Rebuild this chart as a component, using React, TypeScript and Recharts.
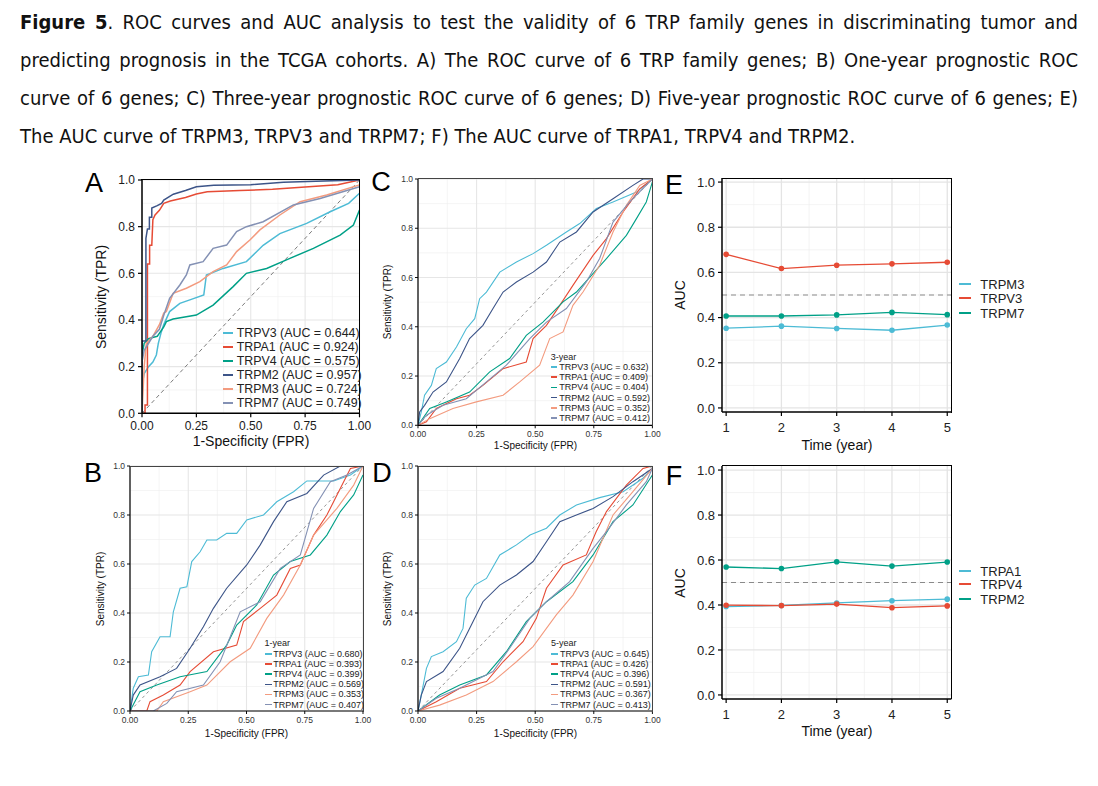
import React from 'react';
import { LineChart, Line, XAxis, YAxis, CartesianGrid, ReferenceLine } from 'recharts';

type Pt = [number, number];

const FONT = '"Liberation Sans", Arial, Helvetica, sans-serif';
const CAPTION_FONT = '"Liberation Sans Narrow", "DejaVu Sans Condensed", "Liberation Sans", Arial, sans-serif';

// ---------- caption ----------
const CAPTION_LINES = [
  '. ROC curves and AUC analysis to test the validity of 6 TRP family genes in discriminating tumor and',
  'predicting prognosis in the TCGA cohorts. A) The ROC curve of 6 TRP family genes; B) One-year prognostic ROC',
  'curve of 6 genes; C) Three-year prognostic ROC curve of 6 genes; D) Five-year prognostic ROC curve of 6 genes; E)',
  'The AUC curve of TRPM3, TRPV3 and TRPM7; F) The AUC curve of TRPA1, TRPV4 and TRPM2.',
];

// ---------- ROC panels ----------
const ROC_GENES = ['TRPV3', 'TRPA1', 'TRPV4', 'TRPM2', 'TRPM3', 'TRPM7'];
const ROC_COLORS = ['#4DBBD5', '#E64B35', '#00A087', '#3C5488', '#F39B7F', '#8491B4'];
const FPR_TICKS = [0, 0.25, 0.5, 0.75, 1];
const FPR_MINOR = [0.125, 0.375, 0.625, 0.875];
const TPR_TICKS = [0, 0.2, 0.4, 0.6, 0.8, 1];
const TPR_MINOR = [0.1, 0.3, 0.5, 0.7, 0.9];
const DIAGONAL: Pt[] = [[0, 0], [1, 1]];

const AUC_A = [0.644, 0.924, 0.575, 0.957, 0.724, 0.749];
const AUC_B = [0.680, 0.393, 0.399, 0.569, 0.353, 0.407];
const AUC_C = [0.632, 0.409, 0.404, 0.592, 0.352, 0.412];
const AUC_D = [0.645, 0.426, 0.396, 0.591, 0.367, 0.413];

// Panel A (tumor vs normal) [FPR, TPR]
const A_TRPV3: Pt[] = [[0, 0], [0, 0.12], [0.01, 0.17], [0.03, 0.2], [0.05, 0.22], [0.066, 0.25], [0.075, 0.3], [0.089, 0.35], [0.1, 0.38], [0.127, 0.436], [0.174, 0.471], [0.22, 0.486], [0.284, 0.507], [0.296, 0.593], [0.373, 0.621], [0.48, 0.65], [0.557, 0.72], [0.634, 0.77], [0.757, 0.814], [0.865, 0.864], [0.95, 0.9], [1, 0.943]];
const A_TRPA1: Pt[] = [[0, 0], [0.014, 0], [0.014, 0.036], [0.025, 0.036], [0.025, 0.64], [0.035, 0.64], [0.035, 0.72], [0.045, 0.72], [0.05, 0.83], [0.06, 0.85], [0.08, 0.87], [0.1, 0.9], [0.13, 0.91], [0.2, 0.925], [0.25, 0.94], [0.3, 0.95], [0.45, 0.955], [0.6, 0.96], [0.75, 0.97], [0.9, 0.98], [1, 1]];
const A_TRPV4: Pt[] = [[0, 0], [0, 0.25], [0.01, 0.3], [0.03, 0.32], [0.07, 0.33], [0.1, 0.37], [0.112, 0.393], [0.143, 0.404], [0.25, 0.421], [0.327, 0.464], [0.419, 0.543], [0.48, 0.6], [0.573, 0.621], [0.68, 0.664], [0.788, 0.707], [0.911, 0.764], [0.972, 0.807], [1, 0.871]];
const A_TRPM2: Pt[] = [[0, 0], [0, 0.31], [0.018, 0.31], [0.018, 0.75], [0.025, 0.79], [0.034, 0.79], [0.034, 0.84], [0.045, 0.84], [0.045, 0.88], [0.07, 0.89], [0.09, 0.9], [0.1, 0.914], [0.144, 0.939], [0.2, 0.955], [0.25, 0.971], [0.33, 0.978], [0.5, 0.98], [0.65, 0.99], [0.8, 0.995], [1, 1]];
const A_TRPM3: Pt[] = [[0, 0], [0.01, 0.2], [0.02, 0.3], [0.05, 0.33], [0.08, 0.38], [0.1, 0.43], [0.112, 0.436], [0.143, 0.514], [0.204, 0.536], [0.266, 0.564], [0.327, 0.607], [0.389, 0.636], [0.435, 0.693], [0.496, 0.743], [0.542, 0.786], [0.634, 0.85], [0.727, 0.907], [0.849, 0.936], [1, 0.979]];
const A_TRPM7: Pt[] = [[0, 0], [0, 0.22], [0.01, 0.27], [0.05, 0.33], [0.08, 0.36], [0.1, 0.42], [0.127, 0.493], [0.174, 0.55], [0.204, 0.593], [0.22, 0.636], [0.281, 0.65], [0.327, 0.707], [0.389, 0.721], [0.435, 0.779], [0.48, 0.8], [0.557, 0.821], [0.696, 0.893], [0.819, 0.921], [1, 0.971]];

// Panel B (1-year)
const B_TRPV3: Pt[] = [[0, 0], [0.014, 0.093], [0.036, 0.14], [0.079, 0.147], [0.093, 0.242], [0.129, 0.303], [0.172, 0.303], [0.186, 0.405], [0.215, 0.501], [0.244, 0.507], [0.265, 0.61], [0.301, 0.65], [0.33, 0.698], [0.372, 0.698], [0.415, 0.725], [0.458, 0.725], [0.501, 0.78], [0.573, 0.8], [0.63, 0.854], [0.702, 0.895], [0.759, 0.939], [0.874, 0.939], [0.946, 0.963], [1, 1]];
const B_TRPA1: Pt[] = [[0, 0], [0.072, 0], [0.086, 0.038], [0.143, 0.065], [0.215, 0.106], [0.258, 0.161], [0.358, 0.242], [0.458, 0.269], [0.487, 0.365], [0.559, 0.419], [0.63, 0.473], [0.688, 0.582], [0.731, 0.596], [0.788, 0.718], [0.845, 0.8], [0.903, 0.909], [0.946, 0.99], [1, 1]];
const B_TRPV4: Pt[] = [[0, 0], [0.043, 0.079], [0.115, 0.106], [0.215, 0.14], [0.33, 0.161], [0.415, 0.269], [0.458, 0.351], [0.544, 0.433], [0.616, 0.555], [0.688, 0.61], [0.774, 0.637], [0.845, 0.718], [0.903, 0.814], [0.96, 0.882], [1, 0.963]];
const B_TRPM2: Pt[] = [[0, 0], [0.014, 0.065], [0.043, 0.106], [0.129, 0.14], [0.2, 0.174], [0.258, 0.256], [0.315, 0.344], [0.358, 0.419], [0.415, 0.501], [0.501, 0.596], [0.559, 0.678], [0.616, 0.773], [0.673, 0.854], [0.759, 0.888], [0.831, 0.963], [0.903, 1], [1, 1]];
const B_TRPM3: Pt[] = [[0, 0], [0.115, 0], [0.143, 0.038], [0.258, 0.079], [0.33, 0.106], [0.43, 0.201], [0.516, 0.256], [0.587, 0.378], [0.659, 0.473], [0.731, 0.596], [0.788, 0.718], [0.888, 0.827], [0.96, 0.922], [1, 1]];
const B_TRPM7: Pt[] = [[0, 0], [0.1, 0], [0.158, 0.031], [0.2, 0.079], [0.315, 0.106], [0.387, 0.201], [0.473, 0.405], [0.559, 0.446], [0.645, 0.582], [0.731, 0.637], [0.788, 0.827], [0.86, 0.936], [0.931, 0.963], [1, 1]];

// Panel C (3-year)
const C_TRPV3: Pt[] = [[0, 0], [0.014, 0.054], [0.028, 0.122], [0.057, 0.162], [0.078, 0.23], [0.121, 0.257], [0.164, 0.318], [0.206, 0.392], [0.242, 0.433], [0.263, 0.514], [0.292, 0.541], [0.349, 0.622], [0.42, 0.663], [0.491, 0.697], [0.548, 0.731], [0.633, 0.785], [0.69, 0.819], [0.761, 0.88], [0.832, 0.907], [0.932, 0.947], [1, 1]];
const C_TRPA1: Pt[] = [[0, 0], [0.036, 0.014], [0.078, 0.068], [0.164, 0.108], [0.22, 0.122], [0.277, 0.162], [0.363, 0.23], [0.462, 0.257], [0.491, 0.352], [0.548, 0.406], [0.605, 0.487], [0.661, 0.568], [0.747, 0.69], [0.804, 0.758], [0.875, 0.866], [0.946, 0.96], [1, 1]];
const C_TRPV4: Pt[] = [[0, 0], [0.05, 0.068], [0.121, 0.095], [0.22, 0.135], [0.306, 0.217], [0.391, 0.271], [0.462, 0.365], [0.533, 0.419], [0.619, 0.501], [0.676, 0.541], [0.804, 0.677], [0.889, 0.771], [0.932, 0.839], [0.974, 0.907], [1, 0.988]];
const C_TRPM2: Pt[] = [[0, 0], [0.007, 0.054], [0.028, 0.081], [0.064, 0.135], [0.121, 0.176], [0.178, 0.271], [0.22, 0.352], [0.277, 0.406], [0.32, 0.474], [0.363, 0.541], [0.42, 0.582], [0.491, 0.622], [0.548, 0.663], [0.605, 0.744], [0.676, 0.785], [0.747, 0.866], [0.832, 0.92], [0.917, 0.974], [0.96, 1], [1, 1]];
const C_TRPM3: Pt[] = [[0, 0], [0.05, 0.027], [0.149, 0.068], [0.249, 0.095], [0.363, 0.122], [0.434, 0.176], [0.519, 0.244], [0.562, 0.352], [0.619, 0.379], [0.661, 0.487], [0.704, 0.541], [0.775, 0.65], [0.832, 0.785], [0.889, 0.893], [0.946, 0.974], [1, 1]];
const C_TRPM7: Pt[] = [[0, 0], [0.036, 0.041], [0.107, 0.081], [0.206, 0.108], [0.292, 0.176], [0.377, 0.244], [0.477, 0.352], [0.548, 0.419], [0.633, 0.474], [0.718, 0.582], [0.775, 0.677], [0.832, 0.825], [0.903, 0.907], [1, 1]];

// Panel D (5-year)
const D_TRPV3: Pt[] = [[0, 0], [0.014, 0.065], [0.036, 0.174], [0.057, 0.222], [0.107, 0.242], [0.164, 0.283], [0.192, 0.337], [0.206, 0.46], [0.242, 0.514], [0.292, 0.541], [0.349, 0.637], [0.42, 0.678], [0.478, 0.718], [0.548, 0.746], [0.605, 0.8], [0.676, 0.841], [0.775, 0.871], [0.875, 0.895], [0.96, 0.95], [1, 0.99]];
const D_TRPA1: Pt[] = [[0, 0], [0.078, 0.038], [0.178, 0.093], [0.292, 0.12], [0.363, 0.201], [0.448, 0.283], [0.505, 0.378], [0.548, 0.501], [0.619, 0.596], [0.718, 0.637], [0.76, 0.732], [0.804, 0.814], [0.889, 0.922], [0.96, 0.99], [1, 1]];
const D_TRPV4: Pt[] = [[0, 0], [0.092, 0.065], [0.178, 0.106], [0.292, 0.147], [0.377, 0.242], [0.462, 0.365], [0.548, 0.446], [0.661, 0.528], [0.747, 0.637], [0.832, 0.773], [0.917, 0.841], [1, 0.963]];
const D_TRPM2: Pt[] = [[0, 0], [0.014, 0.065], [0.036, 0.12], [0.107, 0.161], [0.178, 0.256], [0.235, 0.365], [0.277, 0.446], [0.349, 0.514], [0.42, 0.555], [0.491, 0.61], [0.548, 0.691], [0.605, 0.773], [0.676, 0.8], [0.747, 0.827], [0.832, 0.875], [0.917, 0.936], [1, 0.99]];
const D_TRPM3: Pt[] = [[0, 0], [0.092, 0.024], [0.206, 0.065], [0.32, 0.12], [0.42, 0.201], [0.491, 0.263], [0.59, 0.392], [0.661, 0.473], [0.747, 0.61], [0.832, 0.8], [0.917, 0.895], [1, 0.99]];
const D_TRPM7: Pt[] = [[0, 0], [0.078, 0.052], [0.178, 0.093], [0.32, 0.161], [0.391, 0.256], [0.477, 0.378], [0.548, 0.446], [0.647, 0.528], [0.747, 0.664], [0.804, 0.732], [0.889, 0.841], [0.974, 0.936], [1, 0.99]];

// ---------- AUC over time panels ----------
const YEARS = [1, 2, 3, 4, 5];
const YEAR_TICKS = [1, 2, 3, 4, 5];
const YEAR_MINOR = [1.5, 2.5, 3.5, 4.5];
const AUC_TICKS = [0, 0.2, 0.4, 0.6, 0.8, 1];
const AUC_MINOR = [0.1, 0.3, 0.5, 0.7, 0.9];
const TIME_COLORS = ['#4DBBD5', '#E64B35', '#00A087'];

const E_GENES = ['TRPM3', 'TRPV3', 'TRPM7'];
const E_TRPM3 = [0.353, 0.362, 0.352, 0.344, 0.367];
const E_TRPV3 = [0.680, 0.617, 0.632, 0.638, 0.645];
const E_TRPM7 = [0.407, 0.407, 0.412, 0.423, 0.413];

const F_GENES = ['TRPA1', 'TRPV4', 'TRPM2'];
const F_TRPA1 = [0.393, 0.398, 0.409, 0.419, 0.426];
const F_TRPV4 = [0.399, 0.397, 0.404, 0.388, 0.396];
const F_TRPM2 = [0.569, 0.562, 0.592, 0.573, 0.591];

// ---------- helpers ----------
const toXY = (pts: Pt[]) => pts.map(([x, y]) => ({ x, y }));

type Box = { x: number; y: number; w: number; h: number };

function Txt(props: { x: number; y: number; size: number; children: React.ReactNode; rotate?: boolean; anchor?: 'start' | 'middle'; color?: string; weight?: number }) {
  const { x, y, size, children, rotate, anchor = 'middle', color = '#111', weight = 400 } = props;
  const tx = anchor === 'middle' ? '-50%' : '0';
  return (
    <div
      style={{
        position: 'absolute',
        left: x,
        top: y,
        fontSize: size,
        fontFamily: FONT,
        color,
        fontWeight: weight,
        whiteSpace: 'nowrap',
        lineHeight: 1,
        transform: `translate(${tx}, -50%)${rotate ? ' rotate(-90deg)' : ''}`,
      }}
    >
      {children}
    </div>
  );
}

const T = 12;
const R = 12;
const YW = 44;
const XH = 34;

type RocCfg = {
  letter: string;
  letterPos: [number, number];
  box: Box;
  curves: Pt[][];
  aucs: number[];
  legendTitle?: string;
  tickFont: number;
  titleFont: number;
  legendFont: number;
  legTitleY?: number;
  legX: number;
  legY: number;
  legStep: number;
  segW: number;
  segH: number;
  textX: number;
  lineW: number;
  dash: string;
  diagW: number;
  borderW: number;
  borderColor: string;
  axisW: number;
  yTitle: [number, number];
  xTitle: [number, number];
  tickColor: string;
  tickLen: number;
  tickGap: number;
  xTickGap: number;
};

function RocPanel({ c }: { c: RocCfg }) {
  const W = c.box.w + YW + R;
  const H = c.box.h + T + XH;
  const tickStyle = { fontSize: c.tickFont, fill: c.tickColor, fontFamily: FONT };
  return (
    <>
      <div style={{ position: 'absolute', left: c.box.x - YW, top: c.box.y - T, width: W, height: H }}>
        <LineChart width={W} height={H} margin={{ top: T, right: R, left: 0, bottom: 0 }}>
          <CartesianGrid verticalValues={FPR_MINOR} horizontalValues={TPR_MINOR} stroke="#efefef" strokeWidth={0.6} />
          <CartesianGrid verticalValues={FPR_TICKS} horizontalValues={TPR_TICKS} stroke="#e6e6e6" strokeWidth={1.1} />
          <XAxis
            type="number"
            dataKey="x"
            domain={[0, 1]}
            ticks={FPR_TICKS}
            tickFormatter={(v: number) => v.toFixed(2)}
            height={XH}
            tick={tickStyle}
            tickSize={c.tickLen}
            tickMargin={c.xTickGap}
            axisLine={{ stroke: '#000', strokeWidth: c.axisW }}
            tickLine={{ stroke: '#000', strokeWidth: c.axisW * 0.8 }}
            allowDataOverflow
          />
          <YAxis
            type="number"
            dataKey="y"
            domain={[0, 1]}
            ticks={TPR_TICKS}
            tickFormatter={(v: number) => v.toFixed(1)}
            width={YW}
            tick={tickStyle}
            tickSize={c.tickLen}
            tickMargin={c.tickGap}
            axisLine={{ stroke: '#000', strokeWidth: c.axisW }}
            tickLine={{ stroke: '#000', strokeWidth: c.axisW * 0.8 }}
            allowDataOverflow
          />
          <Line
            data={toXY(DIAGONAL)}
            dataKey="y"
            type="linear"
            stroke="#7a7a7a"
            strokeWidth={c.diagW}
            strokeDasharray={c.dash}
            dot={false}
            activeDot={false}
            isAnimationActive={false}
          />
          {c.curves.map((pts, i) => (
            <Line
              key={ROC_GENES[i]}
              data={toXY(pts)}
              dataKey="y"
              name={ROC_GENES[i]}
              type="linear"
              stroke={ROC_COLORS[i]}
              strokeWidth={c.lineW}
              dot={false}
              activeDot={false}
              isAnimationActive={false}
            />
          ))}
        </LineChart>
      </div>
      <div
        style={{
          position: 'absolute',
          left: c.box.x - c.borderW / 2,
          top: c.box.y - c.borderW / 2,
          width: c.box.w + c.borderW,
          height: c.box.h + c.borderW,
          boxSizing: 'border-box',
          borderTop: `${c.borderW}px solid ${c.borderColor}`,
          borderRight: `${c.borderW}px solid ${c.borderColor}`,
          pointerEvents: 'none',
        }}
      />
      <Txt x={c.letterPos[0]} y={c.letterPos[1]} size={27} color="#000">{c.letter}</Txt>
      <Txt x={c.yTitle[0]} y={c.yTitle[1]} size={c.titleFont} rotate>Sensitivity (TPR)</Txt>
      <Txt x={c.xTitle[0]} y={c.xTitle[1]} size={c.titleFont}>1-Specificity (FPR)</Txt>
      {c.legendTitle && c.legTitleY !== undefined && (
        <Txt x={c.legX} y={c.legTitleY} size={c.legendFont} anchor="start" color="#222">{c.legendTitle}</Txt>
      )}
      {ROC_GENES.map((g, i) => (
        <React.Fragment key={g}>
          <div
            style={{
              position: 'absolute',
              left: c.legX,
              top: c.legY + i * c.legStep - c.segH / 2,
              width: c.segW,
              height: c.segH,
              background: ROC_COLORS[i],
            }}
          />
          <Txt x={c.textX} y={c.legY + i * c.legStep} size={c.legendFont} anchor="start" color="#222">
            {`${g} (AUC = ${c.aucs[i].toFixed(3)})`}
          </Txt>
        </React.Fragment>
      ))}
    </>
  );
}

type TimeCfg = {
  letter: string;
  letterPos: [number, number];
  box: Box;
  genes: string[];
  series: number[][];
  legX: number;
  legY: number[];
  yTitle: [number, number];
  xTitle: [number, number];
};

function TimePanel({ c }: { c: TimeCfg }) {
  const W = c.box.w + YW + R;
  const H = c.box.h + T + XH;
  const data = YEARS.map((year, i) => {
    const row: Record<string, number> = { year };
    c.genes.forEach((g, k) => {
      row[g] = c.series[k][i];
    });
    return row;
  });
  const tickStyle = { fontSize: 13, fill: '#222', fontFamily: FONT };
  return (
    <>
      <div style={{ position: 'absolute', left: c.box.x - YW, top: c.box.y - T, width: W, height: H }}>
        <LineChart width={W} height={H} data={data} margin={{ top: T, right: R, left: 0, bottom: 0 }}>
          <CartesianGrid verticalValues={YEAR_MINOR} horizontalValues={AUC_MINOR} stroke="#efefef" strokeWidth={0.7} />
          <CartesianGrid verticalValues={YEAR_TICKS} horizontalValues={AUC_TICKS} stroke="#e4e4e4" strokeWidth={1.3} />
          <XAxis
            type="number"
            dataKey="year"
            domain={[0.925, 5.075]}
            ticks={YEAR_TICKS}
            height={XH}
            tick={tickStyle}
            tickSize={4}
            tickMargin={7}
            axisLine={{ stroke: '#000', strokeWidth: 1.5 }}
            tickLine={{ stroke: '#000', strokeWidth: 1.2 }}
            allowDataOverflow
          />
          <YAxis
            type="number"
            domain={[-0.018, 1.018]}
            ticks={AUC_TICKS}
            tickFormatter={(v: number) => v.toFixed(1)}
            width={YW}
            tick={tickStyle}
            tickSize={4}
            tickMargin={3}
            axisLine={{ stroke: '#000', strokeWidth: 1.5 }}
            tickLine={{ stroke: '#000', strokeWidth: 1.2 }}
            allowDataOverflow
          />
          <ReferenceLine y={0.5} stroke="#8a8a8a" strokeWidth={1.2} strokeDasharray="5 4" />
          {c.genes.map((g, k) => (
            <Line
              key={g}
              dataKey={g}
              type="linear"
              stroke={TIME_COLORS[k]}
              strokeWidth={1.3}
              dot={{ r: 2.8, fill: TIME_COLORS[k], stroke: TIME_COLORS[k], strokeWidth: 0 }}
              activeDot={false}
              isAnimationActive={false}
            />
          ))}
        </LineChart>
      </div>
      <div
        style={{
          position: 'absolute',
          left: c.box.x - 0.75,
          top: c.box.y - 0.75,
          width: c.box.w + 1.5,
          height: c.box.h + 1.5,
          boxSizing: 'border-box',
          borderTop: '1.5px solid #000',
          borderRight: '1.5px solid #000',
          pointerEvents: 'none',
        }}
      />
      <Txt x={c.letterPos[0]} y={c.letterPos[1]} size={27} color="#000">{c.letter}</Txt>
      <Txt x={c.yTitle[0]} y={c.yTitle[1]} size={14} rotate>AUC</Txt>
      <Txt x={c.xTitle[0]} y={c.xTitle[1]} size={14}>Time (year)</Txt>
      {c.genes.map((g, k) => (
        <React.Fragment key={g}>
          <div
            style={{
              position: 'absolute',
              left: c.legX,
              top: c.legY[k] - 1,
              width: 12,
              height: 2,
              background: TIME_COLORS[k],
            }}
          />
          <Txt x={c.legX + 21} y={c.legY[k]} size={13} anchor="start" color="#222">{g}</Txt>
        </React.Fragment>
      ))}
    </>
  );
}

const SMALL = {
  tickFont: 8.5,
  titleFont: 10,
  legendFont: 9,
  lineW: 1.1,
  dash: '3 3',
  diagW: 0.8,
  borderW: 1,
  borderColor: '#444',
  axisW: 1.2,
  tickColor: '#333',
  tickLen: 3,
  tickGap: 2,
  xTickGap: 3,
  segH: 1.5,
};

const PANEL_A: RocCfg = {
  letter: 'A', letterPos: [94, 183],
  box: { x: 142, y: 180, w: 217.5, h: 233.3 },
  curves: [A_TRPV3, A_TRPA1, A_TRPV4, A_TRPM2, A_TRPM3, A_TRPM7], aucs: AUC_A,
  tickFont: 12, titleFont: 14, legendFont: 12.4,
  legX: 223, legY: 333.3, legStep: 14, segW: 10, segH: 2, textX: 236.7,
  lineW: 1.5, dash: '4 3', diagW: 1, borderW: 1.5, borderColor: '#000', axisW: 1.5,
  yTitle: [101, 296.7], xTitle: [251, 441], tickColor: '#1a1a1a', tickLen: 4, tickGap: 3, xTickGap: 4,
};

const PANEL_C: RocCfg = {
  ...SMALL,
  letter: 'C', letterPos: [381, 182],
  box: { x: 418.3, y: 178.7, w: 234.4, h: 246.3 },
  curves: [C_TRPV3, C_TRPA1, C_TRPV4, C_TRPM2, C_TRPM3, C_TRPM7], aucs: AUC_C,
  legendTitle: '3-year', legTitleY: 356.7,
  legX: 550.7, legY: 367, legStep: 10.2, segW: 6.5, textX: 559.3,
  yTitle: [388, 302], xTitle: [535.5, 446],
};

const PANEL_B: RocCfg = {
  ...SMALL,
  letter: 'B', letterPos: [93, 473],
  box: { x: 130, y: 466, w: 233, h: 245 },
  curves: [B_TRPV3, B_TRPA1, B_TRPV4, B_TRPM2, B_TRPM3, B_TRPM7], aucs: AUC_B,
  legendTitle: '1-year', legTitleY: 643.3,
  legX: 264.5, legY: 654, legStep: 10.1, segW: 7, textX: 273.3,
  yTitle: [100.7, 588.5], xTitle: [246.5, 734],
};

const PANEL_D: RocCfg = {
  ...SMALL,
  letter: 'D', letterPos: [382, 473],
  box: { x: 418.3, y: 466, w: 234.4, h: 245 },
  curves: [D_TRPV3, D_TRPA1, D_TRPV4, D_TRPM2, D_TRPM3, D_TRPM7], aucs: AUC_D,
  legendTitle: '5-year', legTitleY: 643.3,
  legX: 551, legY: 654, legStep: 10.1, segW: 7, textX: 560,
  yTitle: [388, 588.5], xTitle: [535.5, 734],
};

const PANEL_E: TimeCfg = {
  letter: 'E', letterPos: [674, 185],
  box: { x: 722.3, y: 178.3, w: 229.4, h: 234 },
  genes: E_GENES, series: [E_TRPM3, E_TRPV3, E_TRPM7],
  legX: 959.3, legY: [284.3, 297.7, 312.7],
  yTitle: [680, 295], xTitle: [837, 445],
};

const PANEL_F: TimeCfg = {
  letter: 'F', letterPos: [674, 476],
  box: { x: 722.3, y: 465.5, w: 229.4, h: 233 },
  genes: F_GENES, series: [F_TRPA1, F_TRPV4, F_TRPM2],
  legX: 959.3, legY: [570.7, 584.3, 599],
  yTitle: [680, 583], xTitle: [837, 731],
};

export default function App() {
  return (
    <div style={{ position: 'absolute', left: 0, top: 0, width: 1098, height: 786, background: '#fff', overflow: 'hidden' }}>
      <div style={{ position: 'absolute', left: 20, top: 3, width: 1058, fontFamily: CAPTION_FONT, fontSize: 20, color: '#111' }}>
        {CAPTION_LINES.map((line, i) => (
          <div
            key={i}
            style={{
              height: 38,
              lineHeight: '38px',
              whiteSpace: i === 3 ? 'nowrap' : 'normal',
              textAlign: 'justify',
              textAlignLast: i === 3 ? 'left' : 'justify',
            }}
          >
            {i === 0 && <b>Figure 5</b>}
            {line}
          </div>
        ))}
      </div>
      <RocPanel c={PANEL_A} />
      <RocPanel c={PANEL_C} />
      <RocPanel c={PANEL_B} />
      <RocPanel c={PANEL_D} />
      <TimePanel c={PANEL_E} />
      <TimePanel c={PANEL_F} />
    </div>
  );
}
